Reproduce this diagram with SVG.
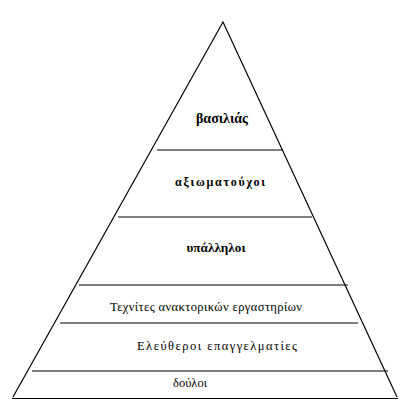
<svg xmlns="http://www.w3.org/2000/svg" width="408" height="402" viewBox="0 0 408 402">
<style>
.ln{stroke:#000;stroke-width:1.2;fill:none}
.b{font-family:"Liberation Serif","Times New Roman",serif;font-weight:bold;fill:#000;text-anchor:middle}
.r{font-family:"Liberation Serif","Times New Roman",serif;font-size:12.5px;fill:#000;text-anchor:middle}
</style>
<rect width="408" height="402" fill="#fff"/>
<g id="connectors">
<path class="ln" d="M13,397 L223,22 L397,397"/>
<line class="ln" x1="157" y1="150" x2="283" y2="150"/>
<line class="ln" x1="118" y1="217" x2="312" y2="217"/>
<line class="ln" x1="79" y1="285" x2="348" y2="285"/>
<line class="ln" x1="60" y1="323" x2="358" y2="323"/>
<line class="ln" x1="32" y1="371" x2="388" y2="371"/>
<line class="ln" x1="12" y1="398.5" x2="398" y2="398.5"/>
</g>
<g id="n1"><text class="b" x="222" y="123" font-size="14" textLength="52" lengthAdjust="spacingAndGlyphs">βασιλιάς</text></g>
<g id="n2"><text class="b" x="220" y="186" font-size="12" textLength="90" lengthAdjust="spacing">αξιωματούχοι</text></g>
<g id="n3"><text class="b" x="216" y="252" font-size="12.5" textLength="59" lengthAdjust="spacingAndGlyphs">υπάλληλοι</text></g>
<g id="n4"><text class="r" x="206" y="311" textLength="192" lengthAdjust="spacing">Τεχνίτες ανακτορικών εργαστηρίων</text></g>
<g id="n5"><text class="r" x="217" y="350" font-size="13" textLength="160" lengthAdjust="spacing">Ελεύθεροι επαγγελματίες</text></g>
<g id="n6"><text class="r" x="190" y="387" font-size="13" textLength="34" lengthAdjust="spacingAndGlyphs">δούλοι</text></g>
</svg>
